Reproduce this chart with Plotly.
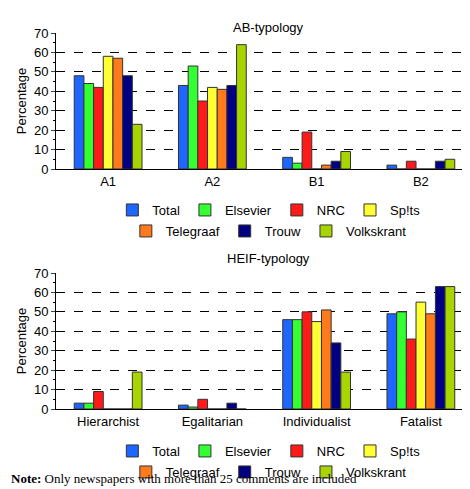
import plotly.graph_objects as go

papers = ['Total', 'Elsevier', 'NRC', 'Sp!ts', 'Telegraaf', 'Trouw', 'Volkskrant']
colors = ['#1f66ff', '#33ff33', '#ff1a1a', '#ffff33', '#ff7a1a', '#000080', '#a8d400']

ab_cats = ['A1', 'A2', 'B1', 'B2']
ab_vals = {
    'Total': [48, 43, 6, 2],
    'Elsevier': [44, 53, 3, 0],
    'NRC': [42, 35, 19, 4],
    'Sp!ts': [58, 42, 0, 0],
    'Telegraaf': [57, 41, 2, 0],
    'Trouw': [48, 43, 4, 4],
    'Volkskrant': [23, 64, 9, 5],
}

heif_cats = ['Hierarchist', 'Egalitarian', 'Individualist', 'Fatalist']
heif_vals = {
    'Total': [3, 2, 46, 49],
    'Elsevier': [3, 1, 46, 50],
    'NRC': [9, 5, 50, 36],
    'Sp!ts': [0, 0, 45, 55],
    'Telegraaf': [0, 0, 51, 49],
    'Trouw': [0, 3, 34, 63],
    'Volkskrant': [19, 0, 19, 63],
}

H = 489
W = 470
def py(px):
    return 1 - px / H

fig = go.Figure()
for i, (p, c) in enumerate(zip(papers, colors)):
    fig.add_trace(go.Bar(x=ab_cats, y=ab_vals[p], name=p, marker_color=c,
                         marker_line=dict(color='#333333', width=1),
                         xaxis='x', yaxis='y', legend='legend' if i < 4 else 'legend2'))
for i, (p, c) in enumerate(zip(papers, colors)):
    fig.add_trace(go.Bar(x=heif_cats, y=heif_vals[p], name=p, marker_color=c,
                         marker_line=dict(color='#333333', width=1),
                         xaxis='x2', yaxis='y2', legend='legend3' if i < 4 else 'legend4'))

yax = dict(range=[0, 70], dtick=10, showgrid=True, gridcolor='black', griddash='dash',
           gridwidth=1, showline=True, linecolor='black', ticks='outside', ticklen=4,
           title=dict(text='Percentage', standoff=4, font=dict(size=13)), zeroline=False,
           tickfont=dict(size=13),
           minor=dict(ticks='outside', ticklen=2, dtick=5, tickcolor='black'))
xax = dict(showline=True, linecolor='black', ticks='', showgrid=False, tickfont=dict(size=13))

leg = dict(orientation='h', xanchor='center', x=0.555, yanchor='top',
           font=dict(size=13), itemwidth=30, tracegroupgap=0, bgcolor='rgba(0,0,0,0)')

fig.update_layout(
    width=W, height=H, margin=dict(l=0, r=0, t=0, b=0, autoexpand=False),
    paper_bgcolor='white', plot_bgcolor='white',
    font=dict(family='Liberation Sans, Arial', size=13, color='black'),
    barmode='group', bargap=0.35, bargroupgap=0,
    xaxis=dict(domain=[48 / W, 465 / W], anchor='y', **xax),
    yaxis=dict(domain=[py(161), py(25)], anchor='x', **yax),
    xaxis2=dict(domain=[48 / W, 465 / W], anchor='y2', **xax),
    yaxis2=dict(domain=[py(401), py(265)], anchor='x2', **yax),
    legend=dict(y=py(187), **leg),
    legend2=dict(y=py(208), **leg),
    legend3=dict(y=py(428), **leg),
    legend4=dict(y=py(449), **leg),
    annotations=[
        dict(text='AB-typology', x=0.555, y=py(10), xref='paper', yref='paper',
             showarrow=False, font=dict(size=13)),
        dict(text='HEIF-typology', x=0.555, y=py(250), xref='paper', yref='paper',
             showarrow=False, font=dict(size=13)),
        dict(text='<b>Note:</b> Only newspapers with more than 25 comments are included',
             x=0.002, y=py(480), xref='paper', yref='paper', xanchor='left',
             showarrow=False, font=dict(family='Liberation Serif, Times New Roman', size=13)),
    ],
)

fig.write_html('out.html')
